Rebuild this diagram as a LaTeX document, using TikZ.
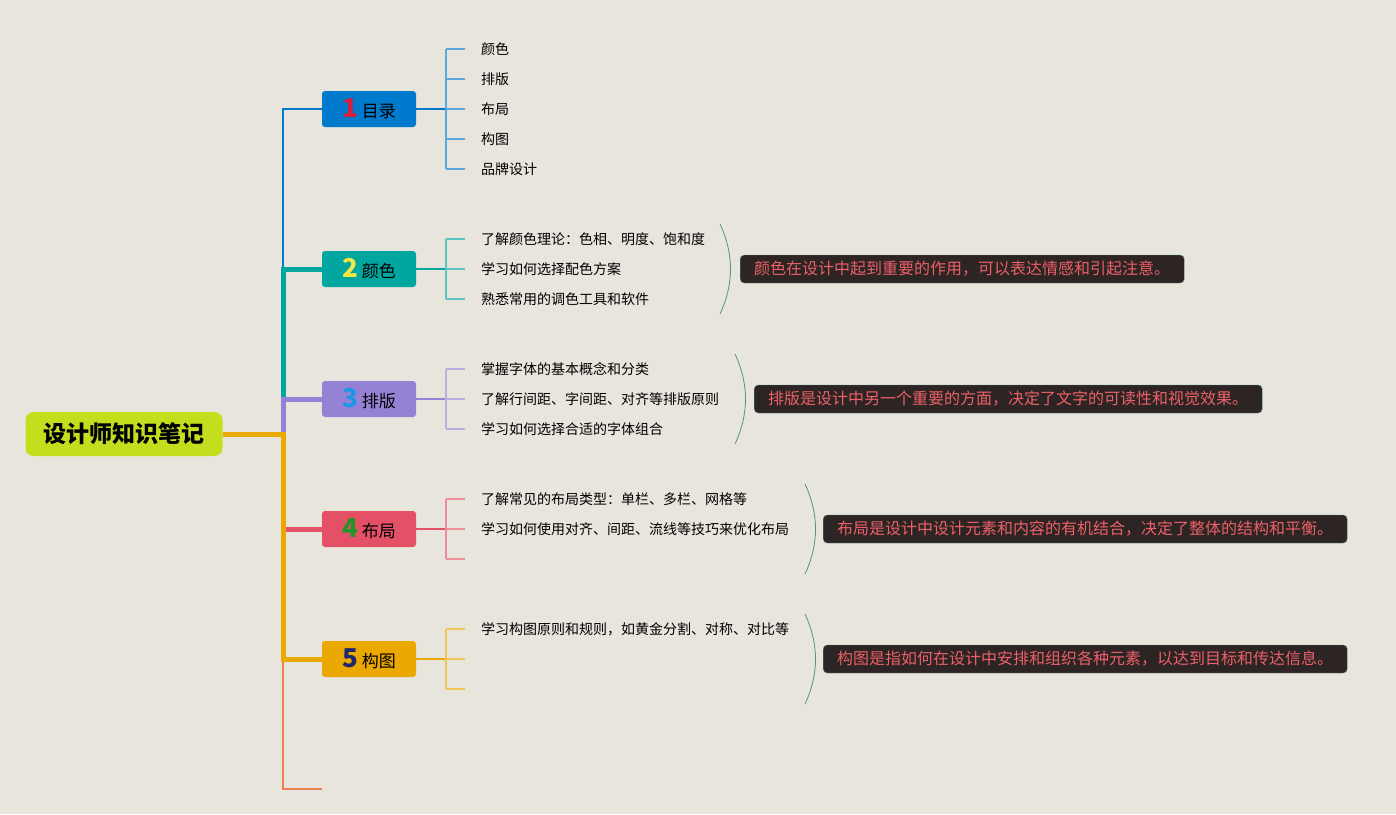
\documentclass[tikz,border=0pt]{standalone}
\usepackage{fontspec}
\setmainfont{Noto Sans CJK SC}
\usetikzlibrary{positioning}
\definecolor{paper}{RGB}{232,229,221}
\definecolor{rootgreen}{RGB}{196,222,30}
\definecolor{br1}{RGB}{0,122,204}
\definecolor{br2}{RGB}{0,166,160}
\definecolor{br3}{RGB}{149,130,212}
\definecolor{br4}{RGB}{228,80,102}
\definecolor{br5}{RGB}{234,168,0}
\definecolor{br6}{RGB}{238,128,80}
\definecolor{num1}{RGB}{214,30,60}
\definecolor{num2}{RGB}{245,230,70}
\definecolor{num3}{RGB}{30,150,230}
\definecolor{num4}{RGB}{30,150,40}
\definecolor{num5}{RGB}{30,40,110}
\definecolor{notebg}{RGB}{45,36,36}
\definecolor{notetx}{RGB}{236,96,104}
\definecolor{sumline}{RGB}{80,150,130}

\begin{document}
\begin{tikzpicture}[x=1pt, y=-1pt,
    root/.style={fill=rootgreen, rounded corners=8pt, minimum width=197pt, minimum height=44pt,
        inner sep=0pt, font=\fontsize{23}{26}\selectfont\bfseries},
    topic/.style={fill=#1, rounded corners=3pt, minimum width=94pt, minimum height=36pt,
        inner sep=0pt, font=\fontsize{17}{20}\selectfont},
    leaf/.style={inner sep=0pt, font=\fontsize{14}{16}\selectfont},
    note/.style={draw=sumline, fill=notebg, text=notetx, rounded corners=4pt, anchor=west,
        minimum height=28pt, inner xsep=14pt, inner ysep=0pt, font=\fontsize{16}{18}\selectfont},
    brk/.style={#1!65, line width=1.5pt},
    summary/.style={sumline, line width=0.8pt}
]
\newcommand{\topicnum}[2]{\textcolor{#1}{\fontsize{26}{26}\selectfont\bfseries #2}\ }
\fill[paper] (0,0) rectangle (1396,814);
\useasboundingbox (0,0) rectangle (1396,814);

% root and topics
\node[root] (root) at (124,434) {设计师知识笔记};
\coordinate (j) at (283,434);
\node[topic=br1] (t1) at (369,109) {\topicnum{num1}{1}目录};
\node[topic=br2] (t2) at (369,269) {\topicnum{num2}{2}颜色};
\node[topic=br3] (t3) at (369,399) {\topicnum{num3}{3}排版};
\node[topic=br4] (t4) at (369,529) {\topicnum{num4}{4}布局};
\node[topic=br5] (t5) at (369,659) {\topicnum{num5}{5}构图};
\coordinate (t6) at (322,789);

% trunk
\draw[br1, line width=2pt] (j) |- (t1.west);
\draw[br2, line width=5pt] (j) |- (t2.west);
\draw[br3, line width=5pt] (j) |- (t3.west);
\draw[br6, line width=2pt] (j) |- (t6);
\draw[br4, line width=5pt] (j) |- (t4.west);
\draw[br5, line width=5pt] (root.east) -- (j) |- (t5.west);

% branch 1
\coordinate (k1) at (446,109);
\draw[br1, line width=2pt] (t1.east) -- (k1);
\foreach \t [count=\i] in {{颜色},{排版},{布局},{构图},{品牌设计}} {
  \coordinate (p1-\i) at (465,{19+30*\i});
  \node[leaf, right=16pt of p1-\i] (l1-\i) {\t};
  \draw[brk=br1] (k1 |- p1-\i) -- (p1-\i);
}
\draw[brk=br1] (k1 |- p1-1) -- (k1 |- p1-5);

% branch 2
\coordinate (k2) at (446,269);
\draw[br2, line width=2pt] (t2.east) -- (k2);
\foreach \t [count=\i] in {{了解颜色理论：色相、明度、饱和度},{学习如何选择配色方案},{熟悉常用的调色工具和软件}} {
  \coordinate (p2-\i) at (465,{209+30*\i});
  \node[leaf, right=16pt of p2-\i] (l2-\i) {\t};
  \draw[brk=br2] (k2 |- p2-\i) -- (p2-\i);
}
\draw[brk=br2] (k2 |- p2-1) -- (k2 |- p2-3);
\draw[summary] (720,224) .. controls (734,254) and (734,284) .. (720,314);
\node[note] (n2) at (740,269) {颜色在设计中起到重要的作用，可以表达情感和引起注意。};

% branch 3
\coordinate (k3) at (446,399);
\draw[br3, line width=2pt] (t3.east) -- (k3);
\foreach \t [count=\i] in {{掌握字体的基本概念和分类},{了解行间距、字间距、对齐等排版原则},{学习如何选择合适的字体组合}} {
  \coordinate (p3-\i) at (465,{339+30*\i});
  \node[leaf, right=16pt of p3-\i] (l3-\i) {\t};
  \draw[brk=br3] (k3 |- p3-\i) -- (p3-\i);
}
\draw[brk=br3] (k3 |- p3-1) -- (k3 |- p3-3);
\draw[summary] (735,354) .. controls (749,384) and (749,414) .. (735,444);
\node[note] (n3) at (754,399) {排版是设计中另一个重要的方面，决定了文字的可读性和视觉效果。};

% branch 4
\coordinate (k4) at (446,529);
\draw[br4, line width=2pt] (t4.east) -- (k4);
\foreach \i in {1,2,3} {
  \coordinate (p4-\i) at (465,{469+30*\i});
  \draw[brk=br4] (k4 |- p4-\i) -- (p4-\i);
}
\foreach \t [count=\i] in {{了解常见的布局类型：单栏、多栏、网格等},{学习如何使用对齐、间距、流线等技巧来优化布局}}
  \node[leaf, right=16pt of p4-\i] (l4-\i) {\t};
\draw[brk=br4] (k4 |- p4-1) -- (k4 |- p4-3);
\draw[summary] (805,484) .. controls (819,514) and (819,544) .. (805,574);
\node[note] (n4) at (823,529) {布局是设计中设计元素和内容的有机结合，决定了整体的结构和平衡。};

% branch 5
\coordinate (k5) at (446,659);
\draw[br5, line width=2pt] (t5.east) -- (k5);
\foreach \i in {1,2,3} {
  \coordinate (p5-\i) at (465,{599+30*\i});
  \draw[brk=br5] (k5 |- p5-\i) -- (p5-\i);
}
\node[leaf, right=16pt of p5-1] (l5-1) {学习构图原则和规则，如黄金分割、对称、对比等};
\draw[brk=br5] (k5 |- p5-1) -- (k5 |- p5-3);
\draw[summary] (805,614) .. controls (819,644) and (819,674) .. (805,704);
\node[note] (n5) at (823,659) {构图是指如何在设计中安排和组织各种元素，以达到目标和传达信息。};
\end{tikzpicture}
\end{document}
